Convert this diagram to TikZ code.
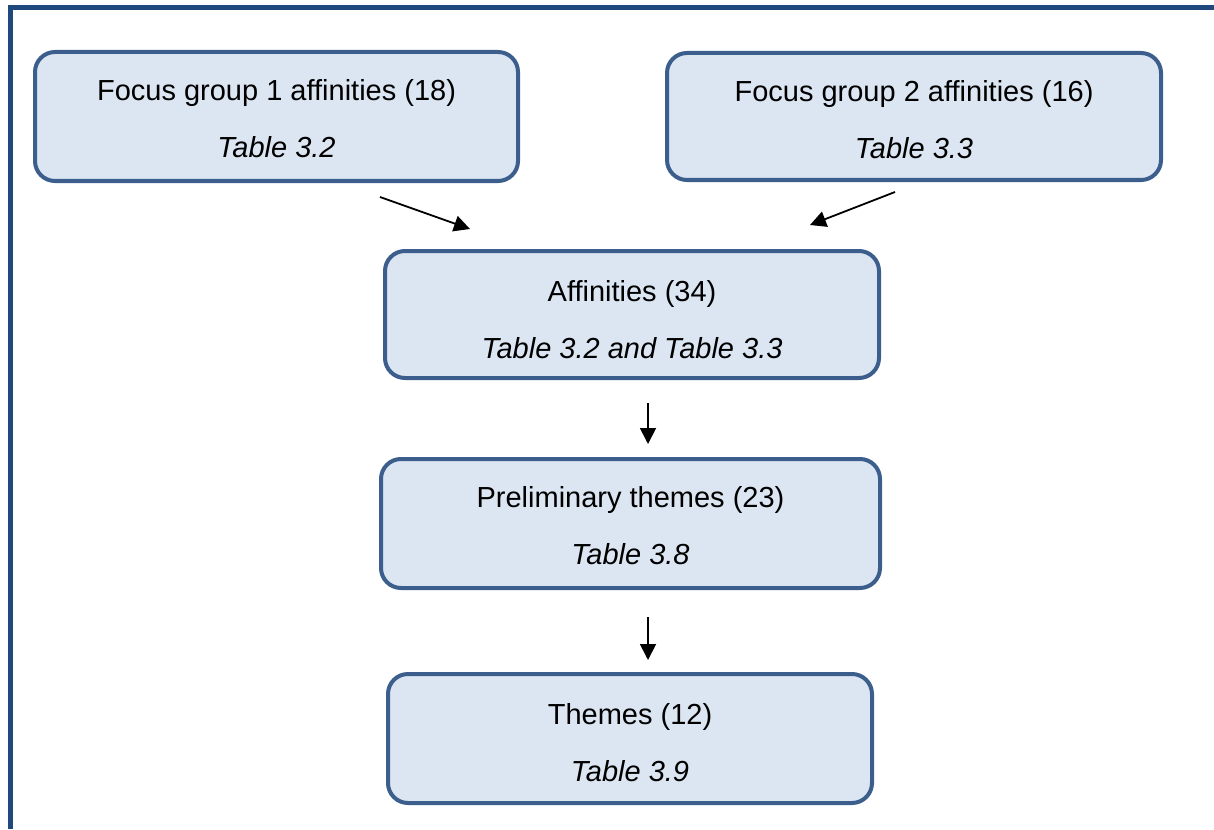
\documentclass[tikz,border=0pt]{standalone}
\usepackage{fontspec}
\setmainfont{Liberation Sans}
\usetikzlibrary{arrows.meta}
\definecolor{frameblue}{HTML}{1F497D}
\definecolor{boxline}{HTML}{3B5E8C}
\definecolor{boxfill}{HTML}{DCE6F2}
\begin{document}
\begin{tikzpicture}[x=1pt,y=-1pt,
  box/.style={draw=boxline, fill=boxfill, line width=4pt, rounded corners=20pt, inner sep=0pt},
  txt/.style={anchor=base, inner sep=0pt, font=\fontsize{29}{33}\selectfont},
  itxt/.style={txt, font=\fontsize{29}{33}\selectfont\itshape},
  arr/.style={line width=1.8pt, -{Triangle[length=16pt,width=16pt]}}]
\useasboundingbox (0,0) rectangle (1214,829);
% frame
\draw[frameblue, line width=5pt] (10.5,829) -- (10.5,7.5) -- (1214,7.5);
% boxes
\node[box, minimum width=483pt, minimum height=129pt] (fg1) at (276.5,116.5) {};
\node[box, minimum width=494pt, minimum height=127pt] (fg2) at (914,116.5) {};
\node[box, minimum width=494pt, minimum height=127pt] (aff) at (632,314.5) {};
\node[box, minimum width=499pt, minimum height=129pt] (pre) at (630.5,523.5) {};
\node[box, minimum width=484pt, minimum height=129pt] (thm) at (630,738.5) {};
% texts
\node[txt] (fg1a) at (276.5,101) {Focus group 1 affinities (18)};
\node[itxt] (fg1b) at (276.5,158) {Table 3.2};
\node[txt] (fg2a) at (914,102) {Focus group 2 affinities (16)};
\node[itxt] (fg2b) at (914,159) {Table 3.3};
\node[txt] (affa) at (632,301) {Affinities (34)};
\node[itxt] (affb) at (632,358) {Table 3.2 and Table 3.3};
\node[txt] (prea) at (630.5,507) {Preliminary themes (23)};
\node[itxt] (preb) at (630.5,564) {Table 3.8};
\node[txt] (thma) at (630,724) {Themes (12)};
\node[itxt] (thmb) at (630,781) {Table 3.9};
% arrows
\coordinate (a1s) at (380,197); \coordinate (a1e) at (470,229);
\coordinate (a2s) at (895,192); \coordinate (a2e) at (810,225);
\coordinate (a3s) at (648,403); \coordinate (a3e) at (648,444);
\coordinate (a4s) at (648,617); \coordinate (a4e) at (648,660);
\draw[arr] (a1s) -- (a1e);
\draw[arr] (a2s) -- (a2e);
\draw[arr] (a3s) -- (a3e);
\draw[arr] (a4s) -- (a4e);
\end{tikzpicture}
\end{document}
